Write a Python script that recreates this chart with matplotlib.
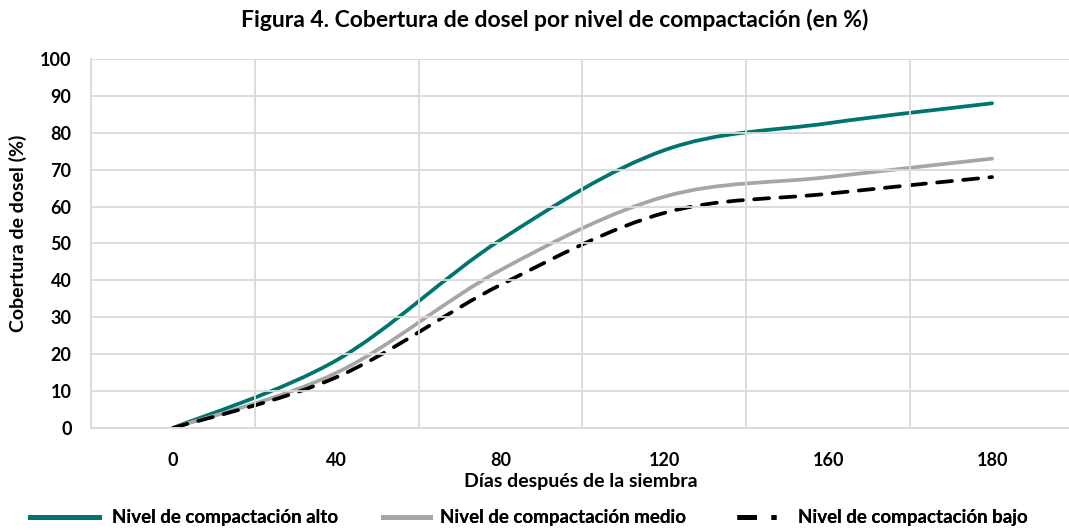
import matplotlib.pyplot as plt
import numpy as np
from matplotlib.path import Path
from matplotlib.patches import PathPatch
from matplotlib.lines import Line2D

dias = ['0', '40', '80', '120', '160', '180']
alto = [0, 18.4, 51, 75.3, 82.6, 88]
medio = [0, 15, 42.8, 62.7, 68, 73]
bajo = [0, 13.8, 38.8, 58.3, 63.5, 68]

series = [
    ('Nivel de compactación alto', alto, '#00756E', '-'),
    ('Nivel de compactación medio', medio, '#A6A6A6', '-'),
    ('Nivel de compactación bajo', bajo, '#000000', (0, (4, 3))),
]

plt.rcParams['font.family'] = ['Lato', 'DejaVu Sans']
plt.rcParams['font.weight'] = 'bold'


def smooth_path(xs, ys):
    # Excel-style smoothed line: cubic Bezier segments through the points
    p = np.column_stack([xs, ys]).astype(float)
    ext = np.vstack([p[0], p, p[-1]])
    verts = [p[0]]
    codes = [Path.MOVETO]
    for i in range(len(p) - 1):
        a, b, c, d = ext[i], ext[i + 1], ext[i + 2], ext[i + 3]
        verts += [b + (c - a) / 6, c - (d - b) / 6, c]
        codes += [Path.CURVE4] * 3
    return Path(verts, codes)


fig = plt.figure(figsize=(10.69, 5.31), dpi=100)
ax = fig.add_axes([91 / 1069, 103 / 531, 983 / 1069, 369 / 531])

x = np.arange(len(dias))
for name, vals, color, ls in series:
    patch = PathPatch(smooth_path(x, vals), fill=False, edgecolor=color,
                      linewidth=2.7, linestyle=ls, capstyle='round', joinstyle='round')
    ax.add_patch(patch)

ax.set_xlim(-0.5, len(dias) - 0.5)
ax.set_ylim(0, 100)
ax.set_yticks(np.arange(0, 101, 10))
ax.set_xticks(x)
ax.set_xticklabels(dias)
ax.set_xticks(np.arange(-0.5, len(dias), 1), minor=True)
ax.grid(False)
ax.grid(True, axis='y', which='major', color='#D9D9D9', linewidth=1.3)
ax.grid(True, axis='x', which='minor', color='#D9D9D9', linewidth=1.3)
for s in ['top', 'right']:
    ax.spines[s].set_visible(False)
for s in ['left', 'bottom']:
    ax.spines[s].set_color('#D9D9D9')
    ax.spines[s].set_linewidth(1.3)
ax.tick_params(which='both', length=0)
ax.tick_params(axis='y', pad=14, labelsize=13)
ax.tick_params(axis='x', pad=17, labelsize=13)

fig.text(555 / 1069, 1 - 20 / 531, 'Figura 4. Cobertura de dosel por nivel de compactación (en %)',
         ha='center', va='center', fontsize=16.5, fontweight='bold')
fig.text(581 / 1069, 1 - 482 / 531, 'Días después de la siembra',
         ha='center', va='center', fontsize=14, fontweight='bold')
fig.text(18 / 1069, 1 - 233 / 531, 'Cobertura de dosel (%)', rotation=90,
         ha='center', va='center', fontsize=14, fontweight='bold')

# one legend per entry so each sits where the original has it
legend_x = [30, 383, 737]
handle_len = [3.7, 2.5, 2.1]
text_pad = [0.7, 0.55, 1.15]
for (name, _, color, ls), lx, hl, tp in zip(series, legend_x, handle_len, text_pad):
    h = Line2D([], [], color=color, linewidth=3.5, linestyle=ls)
    leg = fig.legend([h], [name], loc='center left', bbox_to_anchor=(lx / 1069, 1 - 518 / 531),
                     frameon=False, fontsize=13.5, handlelength=hl, handletextpad=tp,
                     borderpad=0, borderaxespad=0)
    fig.add_artist(leg)

fig.savefig('out.png', dpi=100)
